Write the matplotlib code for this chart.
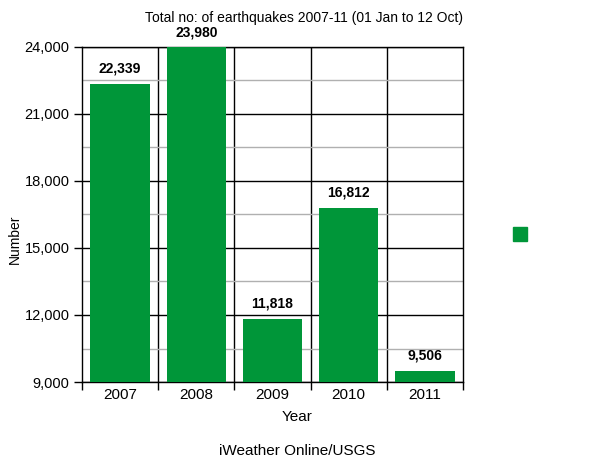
import matplotlib.pyplot as plt
from matplotlib.ticker import FuncFormatter, MultipleLocator

plt.rcParams['font.family'] = ['Liberation Sans', 'DejaVu Sans']

years = ['2007', '2008', '2009', '2010', '2011']
counts = [22339, 23980, 11818, 16812, 9506]
green = '#009639'

fig = plt.figure(figsize=(6, 4.63), dpi=100)
ax = fig.add_axes([82/600, 1 - 382/463, (463 - 82)/600, (382 - 47)/463])

x = list(range(len(years)))
ax.bar(x, counts, width=0.78, color=green, zorder=3)
ax.set_xlim(-0.5, len(years) - 0.5)
ax.set_ylim(9000, 24000)

# grid: black major, grey minor, black category dividers
ax.yaxis.set_major_locator(MultipleLocator(3000))
ax.yaxis.set_minor_locator(MultipleLocator(1500))
ax.grid(axis='y', which='major', color='black', lw=1, zorder=1)
ax.grid(axis='y', which='minor', color='#b0b0b0', lw=1, zorder=1)
for b in range(1, len(years)):
    ax.axvline(b - 0.5, color='black', lw=1, zorder=1)

ax.yaxis.set_major_formatter(FuncFormatter(lambda v, p: f'{int(v):,}'))
ax.tick_params(axis='y', which='major', length=6, width=1, labelsize=10.5, pad=3)
ax.tick_params(axis='y', which='minor', length=0)
ax.set_xticks(x)
ax.set_xticklabels(years)
ax.tick_params(axis='x', length=0, labelsize=11, pad=4)
# ticks at category boundaries below axis
ax.set_xticks([i - 0.5 for i in range(len(years) + 1)], minor=True)
ax.tick_params(axis='x', which='minor', length=6, width=1)

for s in ax.spines.values():
    s.set_color('black')
    s.set_linewidth(1)

for xi, v in zip(x, counts):
    ax.annotate(f'{v:,}', (xi, v), xytext=(0, 6), textcoords='offset points',
                ha='center', va='bottom', fontsize=10, fontweight='bold')

fig.text(15/600, 1 - 239/463, 'Number', rotation=90, ha='center', va='center', fontsize=10)
fig.text(463/600, 1 - 18/463, 'Total no: of earthquakes 2007-11 (01 Jan to 12 Oct)',
         ha='right', va='center', fontsize=10)
fig.text(297/600, 1 - 417/463, 'Year', ha='center', va='center', fontsize=11)
fig.text(297/600, 1 - 451/463, 'iWeather Online/USGS', ha='center', va='center', fontsize=11)

# legend marker with no label
fig.patches.append(plt.Rectangle((513/600, 1 - 241/463), 14/600, 14/463,
                                 transform=fig.transFigure, color=green))

fig.savefig('out.png', dpi=100)
